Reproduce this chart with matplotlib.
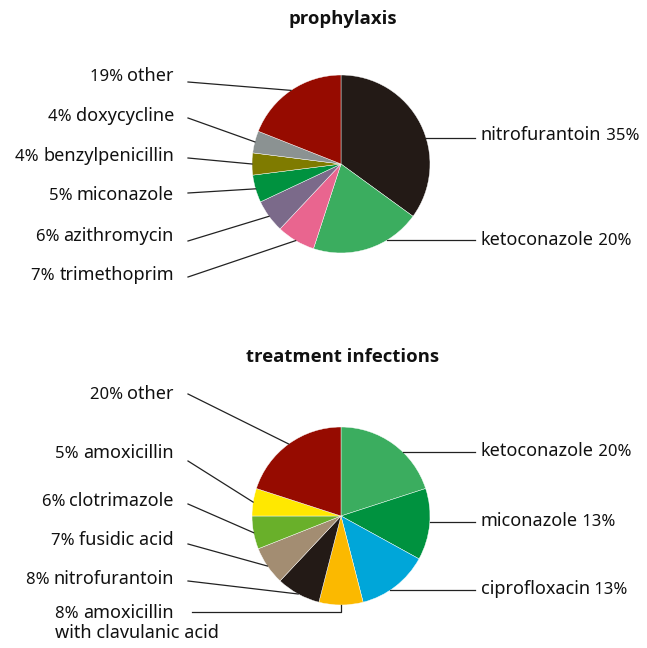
import numpy as np
import matplotlib
matplotlib.use("Agg")
import matplotlib.pyplot as plt

plt.rcParams["font.family"] = ["Noto Sans", "DejaVu Sans"]

# prophylaxis (share in %, clockwise from 12 o'clock)
pro_names = ["nitrofurantoin", "ketoconazole", "trimethoprim", "azithromycin",
             "miconazole", "benzylpenicillin", "doxycycline", "other"]
pro_values = [35, 20, 7, 6, 5, 4, 4, 19]
pro_colors = ["#231a16", "#3bad5f", "#e9658f", "#7b6a8a",
              "#00923f", "#7f7b00", "#8b9292", "#960b00"]

# treatment infections
tre_names = ["ketoconazole", "miconazole", "ciprofloxacin",
             "amoxicillin\nwith clavulanic acid", "nitrofurantoin",
             "fusidic acid", "clotrimazole", "amoxicillin", "other"]
tre_values = [20, 13, 13, 8, 8, 7, 6, 5, 20]
tre_colors = ["#3bad5f", "#00923f", "#00a6d9", "#fbb900", "#231a16",
              "#a38d72", "#69b02a", "#ffe800", "#960b00"]

# label layout (pixel rows from top): side, text baseline, leader start y
pro_layout = [("R", 140, 138), ("R", 245, 240), ("L", 280, 277), ("L", 241, 241),
              ("L", 200, 193), ("L", 161, 158), ("L", 121, 118), ("L", 81, 82)]
tre_layout = [("R", 456, 452), ("R", 526, 522), ("R", 594, 590), ("L", 618, 612),
              ("L", 584, 581), ("L", 545, 544), ("L", 506, 504), ("L", 458, 461),
              ("L", 399, 394)]

W, H = 647, 648
CX, R = 341, 89
NAME_FS, PCT_FS = 13, 12

fig = plt.figure(figsize=(W / 100, H / 100), dpi=100)
ax = fig.add_axes([0, 0, 1, 1])


def draw_pie(names, values, colors, layout, cy, title, title_y):
    cyd = H - cy
    wedges, _ = ax.pie(values, colors=colors, startangle=90, counterclock=False,
                       center=(CX, cyd), radius=R, frame=True,
                       wedgeprops=dict(edgecolor="white", linewidth=0.3))
    ax.text(CX + 2, H - title_y, title, ha="center", va="baseline",
            fontsize=13.3, fontweight="bold", color="#111111",
            family=["Open Sans", "DejaVu Sans"])
    for w, name, v, (side, base, ly) in zip(wedges, names, values, layout):
        pct = f"{v}%"
        if side == "R":
            dy = (H - ly) - cyd
            x0 = CX + np.sqrt(R ** 2 - dy ** 2)
            ax.plot([x0, 475], [H - ly, H - ly], color="#222222", lw=0.9)
            t = ax.text(481, H - base, name, ha="left", va="baseline",
                        fontsize=NAME_FS, color="#111111")
            ax.annotate(" " + pct, xy=(1, H - base), xycoords=(t, "data"),
                        ha="left", va="baseline", fontsize=PCT_FS, color="#111111")
        else:
            mid = np.deg2rad((w.theta1 + w.theta2) / 2)
            px, py = CX + R * np.cos(mid), cyd + R * np.sin(mid)
            first, *rest = name.split("\n")
            x1 = 192 if rest else 188
            if rest:
                ax.plot([x1, px, px], [H - ly, H - ly, py], color="#222222", lw=0.9)
            else:
                ax.plot([x1, px], [H - ly, py], color="#222222", lw=0.9)
            t = ax.text(174, H - base, first, ha="right", va="baseline",
                        fontsize=NAME_FS, color="#111111")
            p = ax.annotate(pct + " ", xy=(0, H - base), xycoords=(t, "data"),
                            ha="right", va="baseline", fontsize=PCT_FS, color="#111111")
            for k, line in enumerate(rest, start=1):
                ax.annotate(line, xy=(0, H - base - 20 * k), xycoords=(p, "data"),
                            ha="left", va="baseline", fontsize=NAME_FS, color="#111111")


draw_pie(pro_names, pro_values, pro_colors, pro_layout, 164, "prophylaxis", 24)
draw_pie(tre_names, tre_values, tre_colors, tre_layout, 516, "treatment infections", 362)

ax.set_xlim(0, W)
ax.set_ylim(0, H)
ax.set_aspect("equal")
ax.axis("off")

fig.savefig("out.png", dpi=100, facecolor="white")
